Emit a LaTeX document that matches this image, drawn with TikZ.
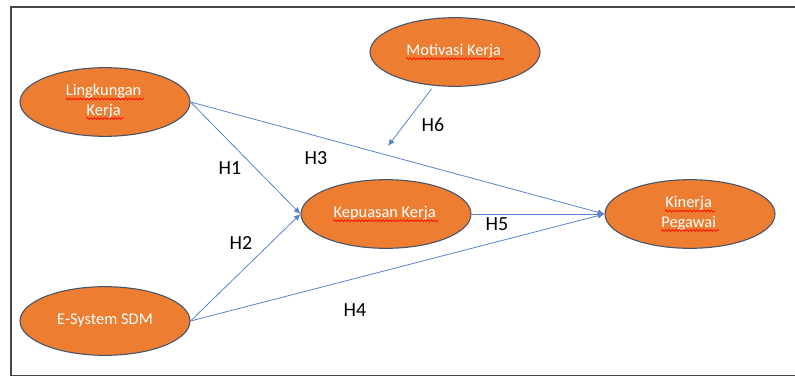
\documentclass[tikz,border=0pt]{standalone}
\usepackage{fontspec}
\setmainfont{Carlito}
\usepackage{tikz}
\usetikzlibrary{arrows.meta, shapes.geometric, decorations.pathmorphing}
\definecolor{varorange}{RGB}{237,125,49}
\definecolor{varborder}{RGB}{66,84,110}
\definecolor{pathblue}{RGB}{91,130,205}
\definecolor{framegray}{RGB}{70,70,70}
\newcommand\spellwave[1]{\tikz[baseline=(sw.base)]{%
  \node[shape=rectangle, draw=none, fill=none, inner sep=0pt, minimum size=0pt] (sw) {#1};
  \draw[red, line width=0.5pt, decorate, decoration={snake, amplitude=0.7pt, segment length=2.6pt}]
    ([yshift=-2.6pt]sw.base west) -- ([yshift=-2.6pt,xshift=2pt]sw.base east);}}

\begin{document}
\begin{tikzpicture}[x=0.75pt, y=-0.75pt, >=Stealth,
  var/.style={ellipse, fill=varorange, draw=varborder, line width=0.8pt,
    minimum width=127.5pt, minimum height=51.5pt, inner sep=0pt,
    text=white, font=\fontsize{12.3}{14.6}\selectfont, align=center},
  hyp/.style={pathblue, line width=0.6pt, arrows={-Latex[length=5pt,width=4.5pt]}},
  hlab/.style={font=\fontsize{15}{18}\selectfont, text=black}]

\useasboundingbox (0,0) rectangle (795,377);
\draw[framegray, line width=1.2pt] (11,7) rectangle (800,375.5);

\node[var] (lingkungan) at (105,102) {\spellwave{Lingkungan}\\\spellwave{Kerja}};
\node[var] (motivasi)   at (455,52)  {\spellwave{Motivasi Kerja}};
\node[var] (kepuasan)   at (386,214) {\spellwave{Kepuasan Kerja}};
\node[var] (kinerja)    at (690,214) {\spellwave{Kinerja}\\\spellwave{Pegawai}};
\node[var] (esystem)    at (105,321) {E-System SDM};

\coordinate (h6end) at (388,146);

\draw[hyp] (lingkungan.east) -- (kepuasan.west);
\draw[hyp] (esystem.east) -- (kepuasan.west);
\draw[hyp] (lingkungan.east) -- (kinerja.west);
\draw[hyp] (esystem.east) -- (kinerja.west);
\draw[hyp] (kepuasan.east) -- (kinerja.west);
\draw[hyp, shorten <=3pt] (motivasi.238) -- (h6end);

\node[hlab] (h1) at (230,168) {H1};
\node[hlab] (h2) at (241,243) {H2};
\node[hlab] (h3) at (316,158) {H3};
\node[hlab] (h4) at (355,310) {H4};
\node[hlab] (h5) at (497,224) {H5};
\node[hlab] (h6) at (433,125) {H6};

\end{tikzpicture}
\end{document}
